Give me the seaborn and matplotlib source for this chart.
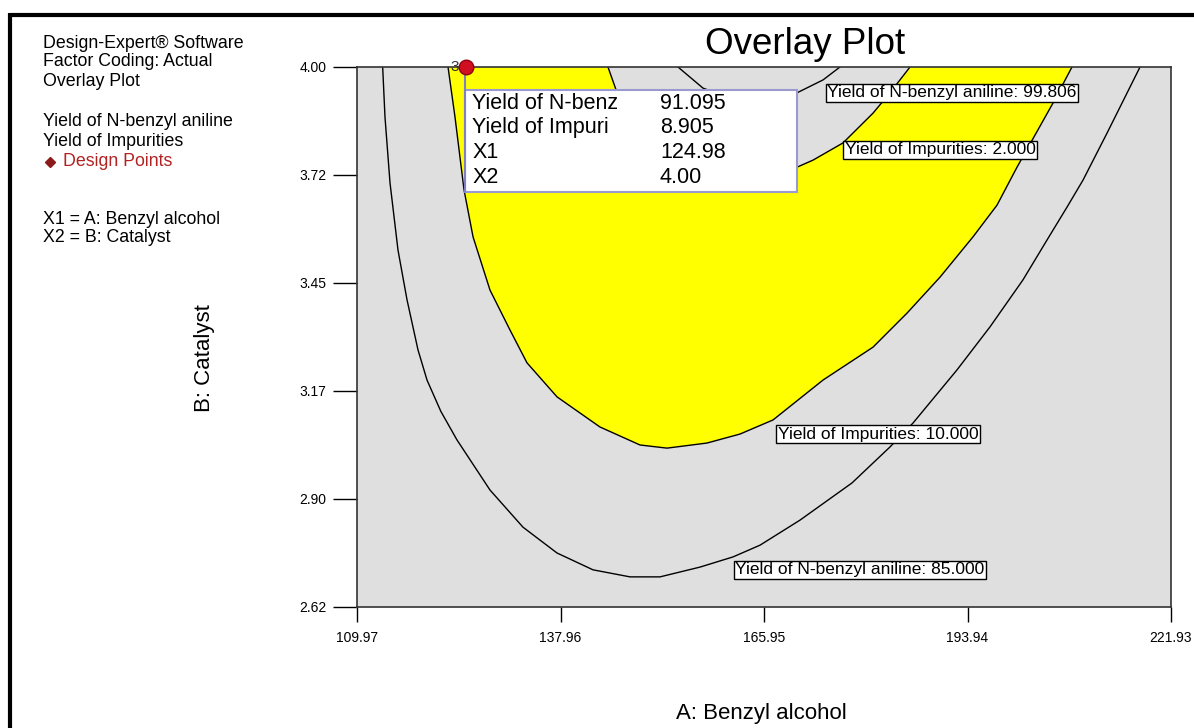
import numpy as np
import matplotlib
matplotlib.use("Agg")
import matplotlib.pyplot as plt
from matplotlib.lines import Line2D
from matplotlib.patches import Rectangle
import seaborn as sns

# factor ranges / ticks
x_ticks = [109.97, 137.96, 165.95, 193.94, 221.93]
x_tick_labels = ["109.97", "137.96", "165.95", "193.94", "221.93"]
y_ticks = [2.62, 2.896, 3.172, 3.448, 3.724, 4.00]
y_tick_labels = ["2.62", "2.90", "3.17", "3.45", "3.72", "4.00"]

# contour: Yield of N-benzyl aniline = 85.000
aniline85_x = [113.50, 113.82, 114.51, 115.61, 116.85, 118.36, 119.60, 121.50, 123.72,
               128.26, 132.80, 137.48, 142.43, 147.52, 151.65, 157.15, 161.69, 165.40,
               170.90, 178.05, 183.28, 186.44, 192.50, 197.04, 201.57, 204.88, 207.63,
               209.83, 213.13, 217.67]
aniline85_y = [4.000, 3.872, 3.704, 3.532, 3.405, 3.277, 3.200, 3.120, 3.047,
               2.919, 2.824, 2.758, 2.715, 2.697, 2.697, 2.722, 2.748, 2.778,
               2.842, 2.937, 3.029, 3.090, 3.226, 3.336, 3.456, 3.558, 3.642,
               3.711, 3.831, 4.000]

# contour: Yield of N-benzyl aniline = 99.806
aniline99_x = [154.12, 157.56, 161.27, 165.40, 170.49, 174.07, 176.40]
aniline99_y = [4.000, 3.946, 3.921, 3.916, 3.934, 3.967, 4.000]

# contour: Yield of Impurities = 10.000
impur10_x = [122.49, 123.45, 124.69, 125.93, 128.26, 131.01, 133.35, 137.48, 143.39,
             148.90, 152.61, 158.11, 162.65, 167.19, 174.07, 180.94, 185.62, 190.16,
             194.70, 198.00, 200.75, 205.70, 208.31]
impur10_y = [4.000, 3.872, 3.686, 3.566, 3.430, 3.328, 3.244, 3.157, 3.080,
             3.034, 3.026, 3.039, 3.062, 3.098, 3.200, 3.284, 3.371, 3.463,
             3.566, 3.647, 3.744, 3.908, 4.000]

# contour: Yield of Impurities = 2.000
impur2_x = [144.49, 145.46, 146.83, 148.90, 151.65, 155.77, 161.27, 166.78, 170.49,
            172.69, 176.82, 180.94, 183.28, 186.03]
impur2_y = [4.000, 3.949, 3.877, 3.813, 3.762, 3.724, 3.709, 3.719, 3.744,
            3.762, 3.806, 3.882, 3.934, 4.000]

contour_labels = ["Yield of N-benzyl aniline: 99.806", "Yield of Impurities: 2.000",
                  "Yield of Impurities: 10.000", "Yield of N-benzyl aniline: 85.000"]
label_x = [191.81, 190.16, 181.63, 179.15]
label_y = [3.934, 3.788, 3.062, 2.715]

# design point flagged on the plot
point_x = [124.98]
point_y = [4.00]

tip_names = ["Yield of N-benz", "Yield of Impuri", "X1", "X2"]
tip_values = ["91.095", "8.905", "124.98", "4.00"]

sns.set_style("white")
plt.rcParams["font.family"] = ["Liberation Sans", "DejaVu Sans"]
plt.rcParams["text.color"] = "black"
plt.rcParams["axes.labelcolor"] = "black"
plt.rcParams["xtick.color"] = "black"
plt.rcParams["ytick.color"] = "black"

fig = plt.figure(figsize=(11.94, 7.28), dpi=100)
ax = fig.add_axes([357 / 1194, 1 - 607 / 728, 814 / 1194, 540 / 728])
ax.set_facecolor("#dfdfdf")

# feasible (yellow) window: inside impurities 10, outside impurities 2
poly_x = np.concatenate([impur10_x, impur2_x[::-1]])
poly_y = np.concatenate([impur10_y, impur2_y[::-1]])
ax.fill(poly_x, poly_y, color="#ffff00", zorder=1, lw=0)

for cx, cy in [(aniline85_x, aniline85_y), (aniline99_x, aniline99_y),
               (impur10_x, impur10_y), (impur2_x, impur2_y)]:
    sns.lineplot(x=cx, y=cy, sort=False, estimator=None, color="black",
                 lw=1, ax=ax, zorder=2)

for txt, lx, ly in zip(contour_labels, label_x, label_y):
    ax.text(lx, ly, txt, ha="center", va="center", fontsize=12.5, zorder=5,
            bbox=dict(boxstyle="square,pad=0.08", fc="white", ec="black", lw=1))

# tooltip box
ax.add_patch(Rectangle((0.1327, 0.7685), 0.4078, 0.1889, transform=ax.transAxes,
                       fc="white", ec="#9a9ad0", lw=1.5, zorder=6, clip_on=False))
ax.plot([0.1327, 0.1327], [0.7685, 1.0], transform=ax.transAxes, color="#8080c0",
        lw=1.5, zorder=6, clip_on=False)
for i, (nm, val) in enumerate(zip(tip_names, tip_values)):
    yy = 0.9333 - i * 0.0457
    ax.text(0.1413, yy, nm, transform=ax.transAxes, fontsize=15.5, va="center", zorder=7)
    ax.text(0.3722, yy, val, transform=ax.transAxes, fontsize=15.5, va="center", zorder=7)

sns.scatterplot(x=point_x, y=point_y, ax=ax, s=110, color="#d01020",
                edgecolor="#900010", linewidth=1, marker="o", zorder=8, clip_on=False)
ax.text(point_x[0] - 1.0, point_y[0], "3", ha="right", va="center", fontsize=11,
        color="#333333", zorder=8)

ax.set_xlim(x_ticks[0], x_ticks[-1])
ax.set_ylim(y_ticks[0], y_ticks[-1])
ax.set_xticks(x_ticks)
ax.set_xticklabels(x_tick_labels)
ax.set_yticks(y_ticks)
ax.set_yticklabels(y_tick_labels)
ax.tick_params(axis="y", direction="out", length=17, width=1, pad=5, labelsize=10,
               left=True, color="black")
ax.tick_params(axis="x", direction="out", length=11, width=1, pad=6, labelsize=10,
               bottom=True, color="black")
for sp in ax.spines.values():
    sp.set_color("#333333")
    sp.set_linewidth(1.2)

ax.set_xlabel("A: Benzyl alcohol", fontsize=16)
ax.set_ylabel("B: Catalyst", fontsize=16)
ax.xaxis.set_label_coords(0.4963, -0.178)
ax.yaxis.set_label_coords(-0.175, 0.461)

fig.text(805 / 1194, 1 - 45 / 728, "Overlay Plot", ha="center", va="center", fontsize=26.5)

info = [("Design-Expert\u00ae Software", 43, "black"), ("Factor Coding: Actual", 62, "black"),
        ("Overlay Plot", 82, "black"), ("Yield of N-benzyl aniline", 122, "black"),
        ("Yield of Impurities", 142, "black"), ("Design Points", 161, "#b22222"),
        ("X1 = A: Benzyl alcohol", 220, "black"), ("X2 = B: Catalyst", 238, "black")]
for txt, ypx, col in info:
    xpx = 63 if txt == "Design Points" else 43
    fig.text(xpx / 1194, 1 - ypx / 728, txt, ha="left", va="center", fontsize=12.8, color=col)
fig.add_artist(Line2D([50 / 1194], [1 - 162 / 728], marker="D", markersize=5,
                      color="#8b1a1a", transform=fig.transFigure))

# page border (left and top)
fig.add_artist(Line2D([9.5 / 1194, 1], [1 - 14.5 / 728, 1 - 14.5 / 728], color="black",
                      lw=3, solid_capstyle="butt", transform=fig.transFigure))
fig.add_artist(Line2D([9.5 / 1194, 9.5 / 1194], [0, 1 - 13 / 728], color="black",
                      lw=3, solid_capstyle="butt", transform=fig.transFigure))

fig.savefig("out.png", dpi=100)
